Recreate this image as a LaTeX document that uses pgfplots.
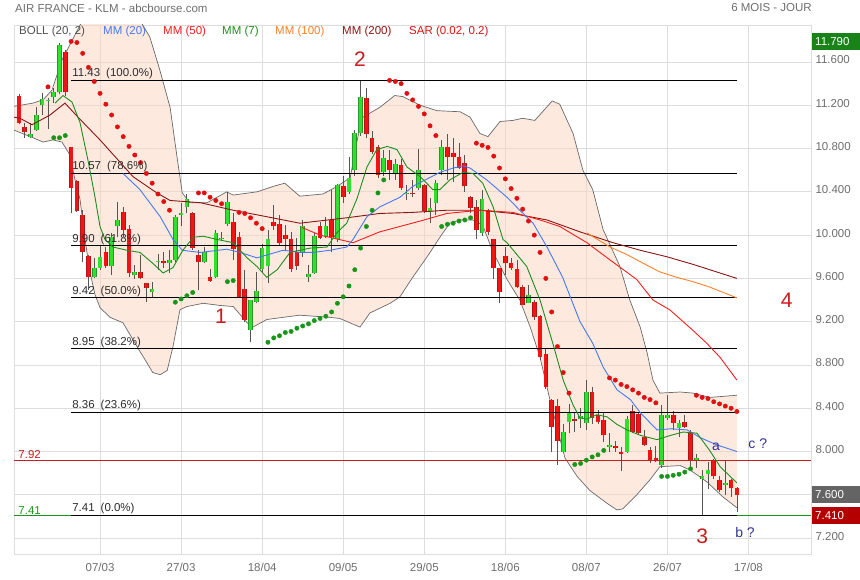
\documentclass[border=0pt]{standalone}
\usepackage{pgfplots}
\pgfplotsset{compat=1.18}
\usepackage{pgfplotstable}
\usepgfplotslibrary{fillbetween}
\usepackage{fontspec}
\setmainfont{Liberation Sans}

\definecolor{gridc}{RGB}{221,221,221}
\definecolor{bandfill}{RGB}{251,212,190}
\definecolor{bandline}{RGB}{105,105,105}
\definecolor{mmbleu}{RGB}{70,120,240}
\definecolor{mmrouge}{RGB}{245,30,30}
\definecolor{mmvert}{RGB}{30,140,30}
\definecolor{mmorange}{RGB}{255,128,40}
\definecolor{mmbrun}{RGB}{140,20,20}
\definecolor{sarrouge}{RGB}{225,15,15}
\definecolor{sarvert}{RGB}{25,150,25}
\definecolor{cvert}{RGB}{45,225,45}
\definecolor{cvertbord}{RGB}{40,150,40}
\definecolor{crouge}{RGB}{240,20,20}
\definecolor{crougebord}{RGB}{180,20,20}
\definecolor{meche}{RGB}{85,85,85}
\definecolor{txtgris}{RGB}{110,110,110}
\definecolor{lblrouge}{RGB}{200,30,30}
\definecolor{lblbleu}{RGB}{50,50,150}
\definecolor{boxvert}{RGB}{25,130,25}
\definecolor{boxgris}{RGB}{100,100,100}
\definecolor{boxrouge}{RGB}{180,0,0}

% bougies : indice de seance, ouverture, haut, bas, cloture
\pgfplotstableread{
i o h l c
0 11.29 11.30 11.03 11.04
1 11.00 11.04 10.90 10.95
2 10.91 11.04 10.90 10.93
3 10.97 11.18 10.96 11.11
4 11.20 11.31 11.11 11.26
5 11.24 11.27 10.98 11.25
6 11.28 11.36 11.22 11.32
7 11.32 11.78 11.30 11.76
8 11.69 11.71 11.29 11.32
9 10.81 10.81 10.20 10.44
10 10.50 10.51 10.21 10.22
11 10.19 10.23 9.75 9.84
12 9.81 9.82 9.49 9.61
13 9.61 9.79 9.60 9.70
14 9.70 9.91 9.68 9.80
15 9.84 9.89 9.70 9.71
16 9.71 10.02 9.63 9.98
17 10.08 10.31 9.98 10.14
18 10.21 10.26 9.98 10.05
19 10.06 10.09 9.61 9.65
20 9.63 9.72 9.59 9.66
21 9.66 9.82 9.59 9.60
22 9.56 9.56 9.38 9.51
23 9.47 9.57 9.42 9.50
24 9.75 9.83 9.68 9.76
25 9.76 9.84 9.70 9.74
26 9.74 9.86 9.65 9.77
27 9.77 10.19 9.75 10.17
28 10.19 10.30 10.08 10.20
29 10.26 10.38 10.20 10.33
30 10.20 10.21 9.86 9.88
31 9.82 9.86 9.49 9.75
32 9.75 9.89 9.74 9.84
33 9.61 9.69 9.57 9.58
34 9.61 10.05 9.60 10.02
35 9.96 10.03 9.95 9.97
36 10.10 10.40 10.08 10.31
37 10.12 10.20 9.77 9.87
38 9.98 10.03 9.42 9.43
39 9.50 9.68 9.20 9.22
40 9.12 9.40 9.01 9.40
41 9.38 9.66 9.37 9.48
42 9.69 9.92 9.66 9.88
43 9.71 10.05 9.56 9.96
44 10.12 10.28 10.05 10.08
45 10.10 10.19 9.90 9.93
46 10.00 10.09 9.86 9.96
47 9.96 10.03 9.66 9.69
48 9.84 9.97 9.68 9.71
49 9.84 10.14 9.80 10.08
50 9.61 9.72 9.57 9.64
51 9.65 10.02 9.64 9.99
52 10.08 10.12 9.96 9.97
53 9.98 10.17 9.97 10.08
54 10.14 10.42 9.84 9.98
55 9.96 10.47 9.94 10.46
56 10.45 10.55 10.30 10.35
57 10.40 10.72 10.38 10.53
58 10.60 10.97 10.55 10.94
59 10.94 11.43 10.92 11.28
60 11.27 11.36 10.90 10.93
61 10.90 10.96 10.75 10.77
62 10.81 10.83 10.53 10.56
63 10.58 10.79 10.55 10.71
64 10.69 10.79 10.51 10.60
65 10.57 10.70 10.51 10.66
66 10.65 10.70 10.42 10.44
67 10.38 10.46 10.32 10.39
68 10.39 10.51 10.35 10.38
69 10.44 10.80 10.42 10.60
70 10.46 10.47 10.20 10.22
71 10.21 10.34 10.11 10.25
72 10.30 10.51 10.19 10.48
73 10.60 10.88 10.56 10.81
74 10.81 10.93 10.51 10.72
75 10.76 10.90 10.49 10.72
76 10.72 10.85 10.61 10.62
77 10.67 10.74 10.40 10.45
78 10.35 10.36 10.20 10.25
79 10.26 10.32 9.96 10.05
80 10.02 10.42 9.99 10.33
81 10.23 10.24 10.00 10.03
82 9.96 9.96 9.59 9.70
83 9.70 9.70 9.37 9.47
84 9.81 9.89 9.63 9.74
85 9.74 9.79 9.68 9.70
86 9.69 9.77 9.51 9.52
87 9.52 9.54 9.35 9.35
88 9.37 9.54 9.37 9.45
89 9.38 9.40 9.22 9.24
90 9.25 9.26 8.85 8.87
91 8.90 8.96 8.58 8.60
92 8.48 8.49 8.00 8.23
93 8.42 8.49 7.88 8.10
94 8.00 8.25 7.99 8.18
95 8.27 8.44 8.17 8.36
96 8.30 8.36 8.18 8.28
97 8.30 8.40 8.22 8.33
98 8.26 8.66 8.20 8.55
99 8.55 8.60 8.25 8.31
100 8.34 8.38 8.25 8.27
101 8.29 8.36 8.09 8.15
102 8.04 8.17 8.00 8.06
103 8.05 8.10 8.00 8.03
104 8.00 8.04 7.82 7.98
105 8.00 8.33 7.99 8.30
106 8.37 8.43 8.17 8.18
107 8.35 8.36 8.16 8.17
108 8.13 8.20 8.05 8.06
109 8.01 8.04 7.89 7.92
110 7.94 8.05 7.90 7.91
111 7.88 8.43 7.85 8.34
112 8.31 8.52 8.29 8.34
113 8.34 8.37 8.20 8.26
114 8.22 8.29 8.13 8.26
115 8.27 8.34 8.22 8.23
116 8.17 8.20 7.83 7.92
117 7.92 7.98 7.85 7.94
118 7.75 7.83 7.41 7.77
119 7.79 7.90 7.65 7.83
120 7.92 7.93 7.75 7.77
121 7.74 7.77 7.63 7.64
122 7.69 7.92 7.60 7.71
123 7.74 7.75 7.58 7.66
124 7.66 7.67 7.44 7.60
}\bougies

% bandes de Bollinger
\pgfplotstableread{
i p
-0.86 11.19
2.42 11.22
4.15 11.25
5.70 11.34
7.43 11.62
10.54 11.94
13.0 12.20
15.7 12.31
18.5 12.22
21.4 11.94
22.6 11.83
24.3 11.53
26.1 11.18
27.3 10.72
28.2 10.39
29.5 10.30
32.5 10.30
35.9 10.40
37.0 10.37
41.1 10.40
43.9 10.45
45.9 10.48
48.5 10.36
52.5 10.38
54.6 10.44
57.2 10.53
58.5 10.90
59.4 11.09
62.3 11.18
64.9 11.29
66.3 11.28
69.3 11.20
72.2 11.15
76.2 11.14
77.9 11.09
79.6 10.94
81.0 10.91
83.1 11.05
85.3 11.06
87.0 11.08
89.1 11.06
92.1 11.24
93.4 11.21
95.7 10.94
97.4 10.60
99.1 10.42
100.9 10.05
103.8 9.71
105.5 9.40
107.3 9.15
108.5 8.91
109.5 8.66
110.7 8.54
114.2 8.55
116.4 8.54
119.3 8.50
124.0 8.52
}\bollhaut

\pgfplotstableread{
i p
-0.86 10.97
2.42 10.90
4.15 10.86
5.87 10.88
7.43 10.86
8.81 10.74
9.67 10.51
10.54 10.33
11.40 9.96
12.26 9.66
13.13 9.45
13.99 9.33
15.72 9.24
17.96 9.19
20.38 8.97
22.1 8.82
23.1 8.73
24.4 8.71
25.6 8.75
26.6 8.97
27.8 9.31
29.0 9.34
31.8 9.37
34.7 9.35
37.0 9.34
39.4 9.19
40.4 9.15
42.8 9.22
45.6 9.24
48.5 9.26
53.7 9.24
55.4 9.23
58.9 9.15
60.6 9.28
64.1 9.37
65.8 9.43
68.0 9.61
70.5 9.80
72.7 9.98
74.4 10.11
76.2 10.14
78.4 10.14
80.1 10.09
81.9 9.84
84.3 9.59
86.5 9.40
88.3 9.15
90.0 8.87
91.7 8.48
94.3 7.94
96.4 7.77
98.6 7.64
101.6 7.52
103.3 7.46
104.3 7.47
106.7 7.60
109.0 7.74
110.7 7.86
114.2 7.87
115.9 7.83
118.8 7.72
121.6 7.58
124.0 7.48
}\bollbas

% moyennes mobiles
\pgfplotstableread{
i p
17.96 10.57
20.9 10.42
24.4 10.17
26.6 9.96
28.2 9.86
31.3 9.84
35.9 9.87
38.2 9.84
41.1 9.79
45.6 9.86
48.5 9.84
50.8 9.84
53.7 9.86
56.6 9.89
57.7 9.96
60.1 10.17
62.3 10.26
65.8 10.35
68.0 10.45
72.7 10.58
75.0 10.62
76.7 10.64
77.9 10.62
80.8 10.51
84.3 10.35
86.5 10.23
88.8 10.11
91.2 9.89
93.9 9.61
96.9 9.20
99.1 9.00
100.9 8.78
103.3 8.57
105.6 8.48
107.3 8.36
110.2 8.20
112.6 8.21
115.4 8.20
117.6 8.13
120.6 8.06
124.0 8.00
}\mmvingt

\pgfplotstableread{
i p
6.22 11.22
7.60 11.29
9.15 11.23
10.54 11.04
11.92 10.69
13.13 10.35
13.99 10.08
14.85 9.96
16.23 9.89
18.65 9.86
20.9 9.84
23.1 9.74
24.9 9.65
26.6 9.70
28.3 9.86
30.1 9.98
31.8 9.99
34.2 9.96
37.0 9.93
39.4 9.79
41.1 9.71
42.8 9.61
44.6 9.68
46.8 9.84
50.3 9.88
53.2 9.89
54.9 10.02
56.6 10.11
58.4 10.34
60.1 10.63
61.8 10.79
63.6 10.82
65.3 10.79
67.0 10.63
69.3 10.54
71.5 10.42
72.7 10.42
74.4 10.51
76.7 10.58
78.4 10.57
80.1 10.48
81.9 10.26
83.6 9.96
84.3 9.93
87.7 9.71
90.0 9.40
92.2 9.00
94.0 8.66
95.7 8.43
96.9 8.31
98.1 8.30
99.8 8.34
101.6 8.32
103.3 8.25
105.0 8.20
107.3 8.15
110.2 8.11
112.6 8.15
114.7 8.18
117.1 8.17
119.3 8.01
121.1 7.86
124.0 7.71
}\mmsept

\pgfplotstableread{
i p
48.9 10.07
52.0 10.00
57.7 9.93
62.3 10.03
69.3 10.13
73.9 10.20
79.6 10.23
85.3 10.21
90.0 10.14
93.4 10.08
98.1 9.93
102.1 9.77
106.7 9.59
109.5 9.40
112.4 9.31
116.4 9.12
118.8 9.00
121.1 8.87
124.0 8.66
}\mmcinquante

\pgfplotstableread{
i p
98.1 10.02
102.1 9.89
105.0 9.82
107.8 9.74
110.7 9.66
113.6 9.61
116.4 9.57
119.3 9.52
124.0 9.42
}\mmcent

\pgfplotstableread{
i p
-0.86 11.09
0.17 11.08
2.25 11.02
5.35 11.11
7.94 11.22
10.19 11.09
13.99 10.88
19.7 10.54
23.8 10.39
26.1 10.32
31.3 10.30
37.0 10.23
42.8 10.17
48.5 10.11
56.6 10.16
62.3 10.20
68.0 10.21
73.9 10.23
79.6 10.23
85.3 10.20
91.2 10.14
96.9 10.03
102.6 9.93
107.3 9.86
111.9 9.80
116.4 9.73
119.9 9.67
124.0 9.60
}\mmdeuxcents

% SAR parabolique
\pgfplotstableread{
i p
5 11.37
9 11.79
10 11.78
11 11.68
12 11.55
13 11.42
14 11.31
15 11.21
16 11.11
17 11.00
18 10.91
19 10.82
20 10.74
21 10.67
22 10.57
23 10.48
24 10.38
25 10.31
26 10.23
31 10.39
32 10.39
33 10.35
34 10.32
35 10.29
38 10.21
39 10.20
40 10.16
41 10.11
42 10.06
64 11.43
65 11.42
66 11.40
67 11.31
68 11.25
69 11.19
70 11.12
71 11.01
72 10.92
79 10.85
80 10.83
81 10.81
82 10.73
83 10.62
84 10.52
85 10.43
86 10.34
87 10.24
88 10.13
89 10.00
90 9.84
91 9.60
92 9.29
93 8.97
94 8.73
95 8.54
102 8.68
103 8.66
104 8.62
105 8.60
106 8.57
107 8.54
108 8.50
109 8.48
110 8.45
117 8.52
118 8.50
119 8.49
120 8.46
121 8.44
122 8.42
123 8.40
124 8.37
}\sarhaut

\pgfplotstableread{
i p
6 10.90
7 10.90
8 10.92
27 9.38
28 9.41
29 9.44
30 9.47
36 9.57
37 9.58
43 9.01
44 9.05
45 9.07
46 9.10
47 9.11
48 9.14
49 9.16
50 9.18
51 9.21
52 9.23
53 9.25
54 9.29
55 9.37
56 9.43
57 9.53
58 9.68
59 9.88
60 10.08
61 10.23
62 10.39
63 10.51
73 10.08
74 10.10
75 10.11
76 10.13
77 10.14
78 10.16
96 7.88
97 7.89
98 7.92
99 7.95
100 7.97
101 8.01
111 7.77
112 7.77
113 7.78
114 7.79
115 7.81
116 7.84
}\sarbas

\newcommand{\petit}{\fontsize{11.5}{13}\selectfont}
\newcommand{\grand}{\fontsize{21}{24}\selectfont}

\begin{document}
\begin{tikzpicture}

\begin{axis}[
    at={(14pt,26pt)}, anchor=south west,
    width=797pt, height=529pt, scale only axis,
    xmin=-0.864, xmax=136.8, ymin=7.053, ymax=11.942,
    axis line style={gridc},
    grid=major, major grid style={gridc, line width=0.8pt},
    tick style={draw=none},
    xtick={14,28,42,56,70,84,98,112,126},
    xticklabels={07/03,27/03,18/04,09/05,29/05,18/06,08/07,26/07,17/08},
    ytick={7.2,7.6,8.0,8.4,8.8,9.2,9.6,10.0,10.4,10.8,11.2,11.6},
    yticklabels={7.200,{},8.000,8.400,8.800,9.200,9.600,10.000,10.400,10.800,11.200,11.600},
    yticklabel pos=right,
    ticklabel style={font=\petit, text=txtgris},
    yticklabel style={yshift=2pt, xshift=1pt},
    xticklabel style={yshift=-6pt},
    clip mode=individual,
]

% Bollinger
\addplot[name path=bh, bandline, line width=0.7pt] table[x=i, y=p] {\bollhaut};
\addplot[name path=bb, bandline, line width=0.7pt] table[x=i, y=p] {\bollbas};
\addplot[fill=bandfill, fill opacity=0.5, draw=none] fill between[of=bh and bb];

% bougies : meches, bord des corps, puis corps
\addplot[draw=none, no markers, error bars/.cd, y dir=plus, y explicit, error mark=none,
    error bar style={line width=0.8pt, draw=meche}]
    table[x=i, y=l, y error expr={\thisrow{h}-\thisrow{l}}] {\bougies};
\addplot[draw=none, no markers,
    restrict expr to domain={\thisrow{c}-\thisrow{o}}{0:10},
    error bars/.cd, y dir=plus, y explicit, error mark=none,
    error bar style={line width=4.6pt, draw=cvertbord}]
    table[x=i, y=o, y error expr={\thisrow{c}-\thisrow{o}}] {\bougies};
\addplot[draw=none, no markers,
    restrict expr to domain={\thisrow{c}-\thisrow{o}}{0:10},
    error bars/.cd, y dir=plus, y explicit, error mark=none,
    error bar style={line width=3.2pt, draw=cvert}]
    table[x=i, y=o, y error expr={\thisrow{c}-\thisrow{o}}] {\bougies};
\addplot[draw=none, no markers,
    restrict expr to domain={\thisrow{o}-\thisrow{c}}{0:10},
    error bars/.cd, y dir=plus, y explicit, error mark=none,
    error bar style={line width=4.6pt, draw=crougebord}]
    table[x=i, y=c, y error expr={\thisrow{o}-\thisrow{c}}] {\bougies};
\addplot[draw=none, no markers,
    restrict expr to domain={\thisrow{o}-\thisrow{c}}{0:10},
    error bars/.cd, y dir=plus, y explicit, error mark=none,
    error bar style={line width=3.2pt, draw=crouge}]
    table[x=i, y=c, y error expr={\thisrow{o}-\thisrow{c}}] {\bougies};

% niveaux
\addplot[lblrouge, line width=0.9pt] coordinates {(-0.864,7.92) (136.8,7.92)};
\addplot[sarvert, line width=0.9pt] coordinates {(-0.864,7.41) (136.8,7.41)};
\addplot[black, line width=0.9pt] coordinates {(9,11.43) (124,11.43)};
\addplot[black, line width=0.9pt] coordinates {(9,10.57) (124,10.57)};
\addplot[black, line width=0.9pt] coordinates {(9,9.90) (124,9.90)};
\addplot[black, line width=0.9pt] coordinates {(9,9.42) (124,9.42)};
\addplot[black, line width=0.9pt] coordinates {(9,8.95) (124,8.95)};
\addplot[black, line width=0.9pt] coordinates {(9,8.36) (124,8.36)};
\addplot[black, line width=0.9pt] coordinates {(9,7.41) (124,7.41)};

% moyennes mobiles
\addplot[mmbrun, line width=0.9pt] table[x=i, y=p] {\mmdeuxcents};
\addplot[mmorange, line width=0.9pt] table[x=i, y=p] {\mmcent};
\addplot[mmrouge, line width=0.9pt] table[x=i, y=p] {\mmcinquante};
\addplot[mmbleu, line width=0.9pt] table[x=i, y=p] {\mmvingt};
\addplot[mmvert, line width=0.9pt] table[x=i, y=p] {\mmsept};

% SAR
\addplot[sarrouge, only marks, mark=*, mark size=2.2pt] table[x=i, y=p] {\sarhaut};
\addplot[sarvert, only marks, mark=*, mark size=2.2pt] table[x=i, y=p] {\sarbas};

% etiquettes Fibonacci
\begin{scope}[every node/.style={font=\petit, text={rgb,255:red,45;green,45;blue,45}, anchor=south west, inner sep=1pt}]
\node at (axis cs:9,11.43) {11.43\hspace{6pt}(100.0\%)};
\node at (axis cs:9,10.57) {10.57\hspace{6pt}(78.6\%)};
\node at (axis cs:9,9.90) {9.90\hspace{6pt}(61.8\%)};
\node at (axis cs:9,9.42) {9.42\hspace{6pt}(50.0\%)};
\node at (axis cs:9,8.95) {8.95\hspace{6pt}(38.2\%)};
\node at (axis cs:9,8.36) {8.36\hspace{6pt}(23.6\%)};
\node at (axis cs:9,7.41) {7.41\hspace{6pt}(0.0\%)};
\end{scope}
\node[font=\petit, text=lblrouge, anchor=south west, inner sep=1pt] at (axis cs:-0.3,7.92) {7.92};
\node[font=\petit, text=sarvert, anchor=south west, inner sep=1pt] at (axis cs:-0.3,7.41) {7.41};

% vagues
\node[font=\grand, text=lblrouge] at (axis cs:34.9,9.25) {1};
\node[font=\grand, text=lblrouge] at (axis cs:58.9,11.63) {2};
\node[font=\grand, text=lblrouge] at (axis cs:118.0,7.22) {3};
\node[font=\grand, text=lblrouge] at (axis cs:132.6,9.40) {4};
\node[font=\fontsize{14}{16}\selectfont, text=lblbleu] at (axis cs:120.4,8.04) {a};
\node[font=\fontsize{14}{16}\selectfont, text=lblbleu] at (axis cs:127.6,8.07) {c ?};
\node[font=\fontsize{14}{16}\selectfont, text=lblbleu] at (axis cs:125.4,7.25) {b ?};

% cartouches de l'axe des prix
\begin{scope}[every node/.style={font=\petit, text=white, anchor=west, inner xsep=3pt, inner ysep=0pt, minimum height=17pt, text width=42pt, align=left, xshift=1pt}]
\node[fill=boxvert] at (axis cs:136.8,11.79) {11.790};
\node[fill=boxgris] at (axis cs:136.8,7.60) {7.600};
\node[fill=boxrouge] at (axis cs:136.8,7.41) {7.410};
\end{scope}
\end{axis}

% titre et legende
\node[font=\petit, text=txtgris, anchor=west, inner sep=0] at (15pt,572pt) {AIR FRANCE - KLM - abcbourse.com};
\node[font=\petit, text=txtgris, anchor=east, inner sep=0] at (812pt,572pt) {6 MOIS - JOUR};
\begin{scope}[every node/.style={font=\petit, anchor=west, inner sep=0}]
\node[text={rgb,255:red,80;green,80;blue,80}] at (19pt,548pt) {BOLL (20, 2)};
\node[text=mmbleu] at (103pt,548pt) {MM (20)};
\node[text=mmrouge] at (163pt,548pt) {MM (50)};
\node[text=mmvert] at (222pt,548pt) {MM (7)};
\node[text=mmorange] at (275pt,548pt) {MM (100)};
\node[text=mmbrun] at (342pt,548pt) {MM (200)};
\node[text=sarrouge] at (409pt,548pt) {SAR (0.02, 0.2)};
\end{scope}

\pgfresetboundingbox
\path[use as bounding box] (0,0) rectangle (860pt,580pt);
\end{tikzpicture}
\end{document}
